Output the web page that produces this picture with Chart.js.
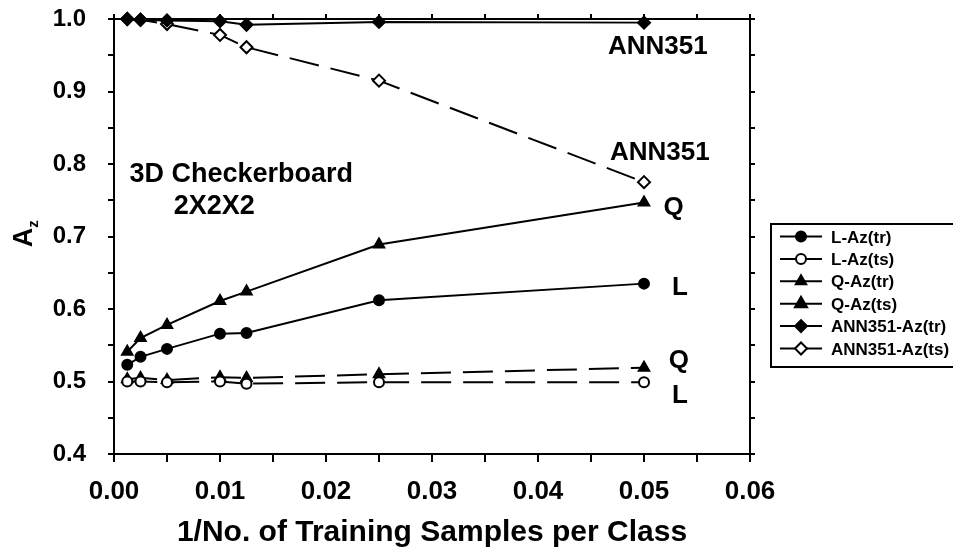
<!DOCTYPE html>
<html>
<head>
<meta charset="utf-8">
<title>Az vs 1/N - 3D Checkerboard 2X2X2</title>
<script src="https://cdn.jsdelivr.net/npm/chart.js@4/dist/chart.umd.min.js"></script>
<style>
  html, body { margin: 0; padding: 0; background: #fff; }
  #wrap { width: 953px; height: 554px; }
</style>
</head>
<body>
<div id="wrap"><canvas id="c" width="953" height="554"></canvas></div>
<script>
// 1 / number of training samples per class (N = 800, 400, 200, 100, 80, 40, 20)
const invSamples = [0.00125, 0.0025, 0.005, 0.01, 0.0125, 0.025, 0.05];

// Az values for each classifier, training (tr) and test (ts)
const lTrain   = [0.523, 0.534, 0.545, 0.566, 0.567, 0.612, 0.635];
const lTest    = [0.500, 0.500, 0.499, 0.500, 0.497, 0.499, 0.499];
const qTrain   = [0.541, 0.560, 0.578, 0.611, 0.624, 0.689, 0.747];
const qTest    = [0.503, 0.505, 0.502, 0.506, 0.505, 0.510, 0.519];
const annTrain = [1.000, 0.999, 0.998, 0.997, 0.992, 0.996, 0.995];
const annTest  = [1.000, 0.999, 0.993, 0.978, 0.961, 0.915, 0.775];

const seriesNames = ['L-Az(tr)', 'L-Az(ts)', 'Q-Az(tr)', 'Q-Az(ts)', 'ANN351-Az(tr)', 'ANN351-Az(ts)'];

// Axis ranges and titles
const xRange = [0, 0.06];
const yRange = [0.4, 1.0];
const xTitle = '1/No. of Training Samples per Class';

// In-plot labels: text, font size and the data coordinates they sit at
const noteTexts = ['ANN351', 'ANN351', 'Q', 'L', 'Q', 'L', '3D Checkerboard', '2X2X2'];
const noteSizes = [26, 26, 26, 26, 26, 26, 27, 27];
const noteX     = [0.0513, 0.0515, 0.0528, 0.0534, 0.0533, 0.0534, 0.0120, 0.00945];
const noteY     = [0.964, 0.819, 0.743, 0.632, 0.532, 0.483, 0.789, 0.744];

const FONT = "'Liberation Sans', Arial, Helvetica, sans-serif";

const toPoints = (vals) => invSamples.map((x, i) => ({ x: x, y: vals[i] }));

function series(label, vals, style, filled, dashed, radius) {
  return {
    label: label,
    data: toPoints(vals),
    borderColor: '#000',
    borderWidth: 2,
    borderDash: dashed ? [30, 12] : [],
    pointStyle: style,
    pointRadius: radius,
    pointHoverRadius: radius,
    pointBorderWidth: 2,
    pointBorderColor: '#000',
    pointBackgroundColor: filled ? '#000' : '#fff',
    tension: 0,
    fill: false,
    clip: false
  };
}

const datasets = [
  series(seriesNames[0], lTrain,   'circle',   true,  false, 5),
  series(seriesNames[1], lTest,    'circle',   false, true,  5),
  series(seriesNames[2], qTrain,   'triangle', true,  false, 6),
  series(seriesNames[3], qTest,    'triangle', true,  true,  6),
  series(seriesNames[4], annTrain, 'rectRot',  true,  false, 6),
  series(seriesNames[5], annTest,  'rectRot',  false, true,  6)
];

const isMultiple = (v, step) => Math.abs(v / step - Math.round(v / step)) < 1e-6;

// Keep the plot frame exactly where the layout padding puts it
function noEdgePadding(s) {
  s.paddingTop = 0; s.paddingBottom = 0;
  s.paddingLeft = 0; s.paddingRight = 0;
}

// Draws the text labels inside the plot, the A_z axis title and the boxed legend
const decorations = {
  id: 'decorations',
  afterDraw(chart) {
    const ctx = chart.ctx;
    const xs = chart.scales.x, ys = chart.scales.y;
    ctx.save();
    ctx.fillStyle = '#000';
    ctx.strokeStyle = '#000';

    // in-plot labels
    ctx.textAlign = 'center';
    ctx.textBaseline = 'alphabetic';
    noteTexts.forEach((t, i) => {
      ctx.font = 'bold ' + noteSizes[i] + 'px ' + FONT;
      const px = xs.getPixelForValue(noteX[i]);
      const py = ys.getPixelForValue(noteY[i]);
      ctx.fillText(t, px, py + noteSizes[i] * 0.358);
    });

    // y axis title: A with subscript z
    ctx.save();
    ctx.translate(22, (chart.chartArea.top + chart.chartArea.bottom) / 2 + 1);
    ctx.rotate(-Math.PI / 2);
    ctx.font = 'bold 27px ' + FONT;
    ctx.textAlign = 'center';
    ctx.textBaseline = 'alphabetic';
    ctx.fillText('A', 0, 9.5);
    ctx.font = 'bold 15px ' + FONT;
    ctx.fillText('z', 13.5, 16);
    ctx.restore();

    // legend
    const lx = 771, ly = 224, lw = 200, lh = 143;
    ctx.lineWidth = 2;
    ctx.strokeRect(lx, ly, lw, lh);
    ctx.font = 'bold 17px ' + FONT;
    ctx.textAlign = 'left';
    ctx.textBaseline = 'alphabetic';
    chart.data.datasets.forEach((ds, i) => {
      const cy = 236.5 + i * 22.4;
      ctx.beginPath();
      ctx.setLineDash([]);
      ctx.lineWidth = 2;
      ctx.moveTo(780, cy);
      ctx.lineTo(822, cy);
      ctx.stroke();
      ctx.fillStyle = ds.pointBackgroundColor;
      ctx.strokeStyle = ds.pointBorderColor;
      Chart.helpers.drawPoint(ctx, {
        pointStyle: ds.pointStyle,
        radius: i === 3 ? 7 : ds.pointRadius,
        rotation: 0,
        borderWidth: ds.pointBorderWidth
      }, 801, cy);
      ctx.fillStyle = '#000';
      ctx.strokeStyle = '#000';
      ctx.fillText(ds.label, 831, cy + 6);
    });
    ctx.restore();
  }
};

const axisColor = '#000';

new Chart(document.getElementById('c'), {
  type: 'line',
  data: { datasets: datasets },
  plugins: [decorations],
  options: {
    responsive: false,
    animation: false,
    devicePixelRatio: 1,
    layout: { padding: { top: 19, right: 203, left: 0, bottom: 0 } },
    plugins: {
      legend: { display: false },
      tooltip: { enabled: false }
    },
    scales: {
      x: {
        type: 'linear',
        position: 'bottom',
        min: xRange[0], max: xRange[1],
        ticks: {
          stepSize: 0.005,
          autoSkip: false,
          maxRotation: 0,
          padding: 14,
          color: '#000',
          font: { family: FONT, size: 26, weight: 'bold' },
          callback: (v) => isMultiple(v, 0.01) ? v.toFixed(2) : ''
        },
        grid: { drawOnChartArea: false, drawTicks: true, tickLength: 8, color: axisColor, lineWidth: 2 },
        border: { display: true, color: axisColor, width: 2 },
        title: {
          display: true,
          text: xTitle,
          color: '#000',
          font: { family: FONT, size: 30, weight: 'bold', lineHeight: 1.2 },
          padding: { top: 0, bottom: 3 }
        },
        afterFit: (s) => { s.height = 100; noEdgePadding(s); }
      },
      x2: {
        type: 'linear',
        position: 'top',
        min: xRange[0], max: xRange[1],
        ticks: { display: false, stepSize: 0.005, autoSkip: false },
        grid: { drawOnChartArea: false, drawTicks: true, tickLength: 5, color: axisColor, lineWidth: 2 },
        border: { display: true, color: axisColor, width: 2 },
        afterFit: (s) => { s.height = 0; noEdgePadding(s); }
      },
      y: {
        type: 'linear',
        position: 'left',
        min: yRange[0], max: yRange[1],
        ticks: {
          stepSize: 0.05,
          autoSkip: false,
          padding: 22,
          color: '#000',
          font: { family: FONT, size: 24, weight: 'bold' },
          callback: (v) => isMultiple(v, 0.1) ? v.toFixed(1) : ''
        },
        grid: { drawOnChartArea: false, drawTicks: true, tickLength: 6, color: axisColor, lineWidth: 2 },
        border: { display: true, color: axisColor, width: 2 },
        afterFit: (s) => { s.width = 114; noEdgePadding(s); }
      },
      y2: {
        type: 'linear',
        position: 'right',
        min: yRange[0], max: yRange[1],
        ticks: { display: false, stepSize: 0.05, autoSkip: false },
        grid: { drawOnChartArea: false, drawTicks: true, tickLength: 5, color: axisColor, lineWidth: 2 },
        border: { display: true, color: axisColor, width: 2 },
        afterFit: (s) => { s.width = 0; noEdgePadding(s); }
      }
    }
  }
});
</script>
</body>
</html>
